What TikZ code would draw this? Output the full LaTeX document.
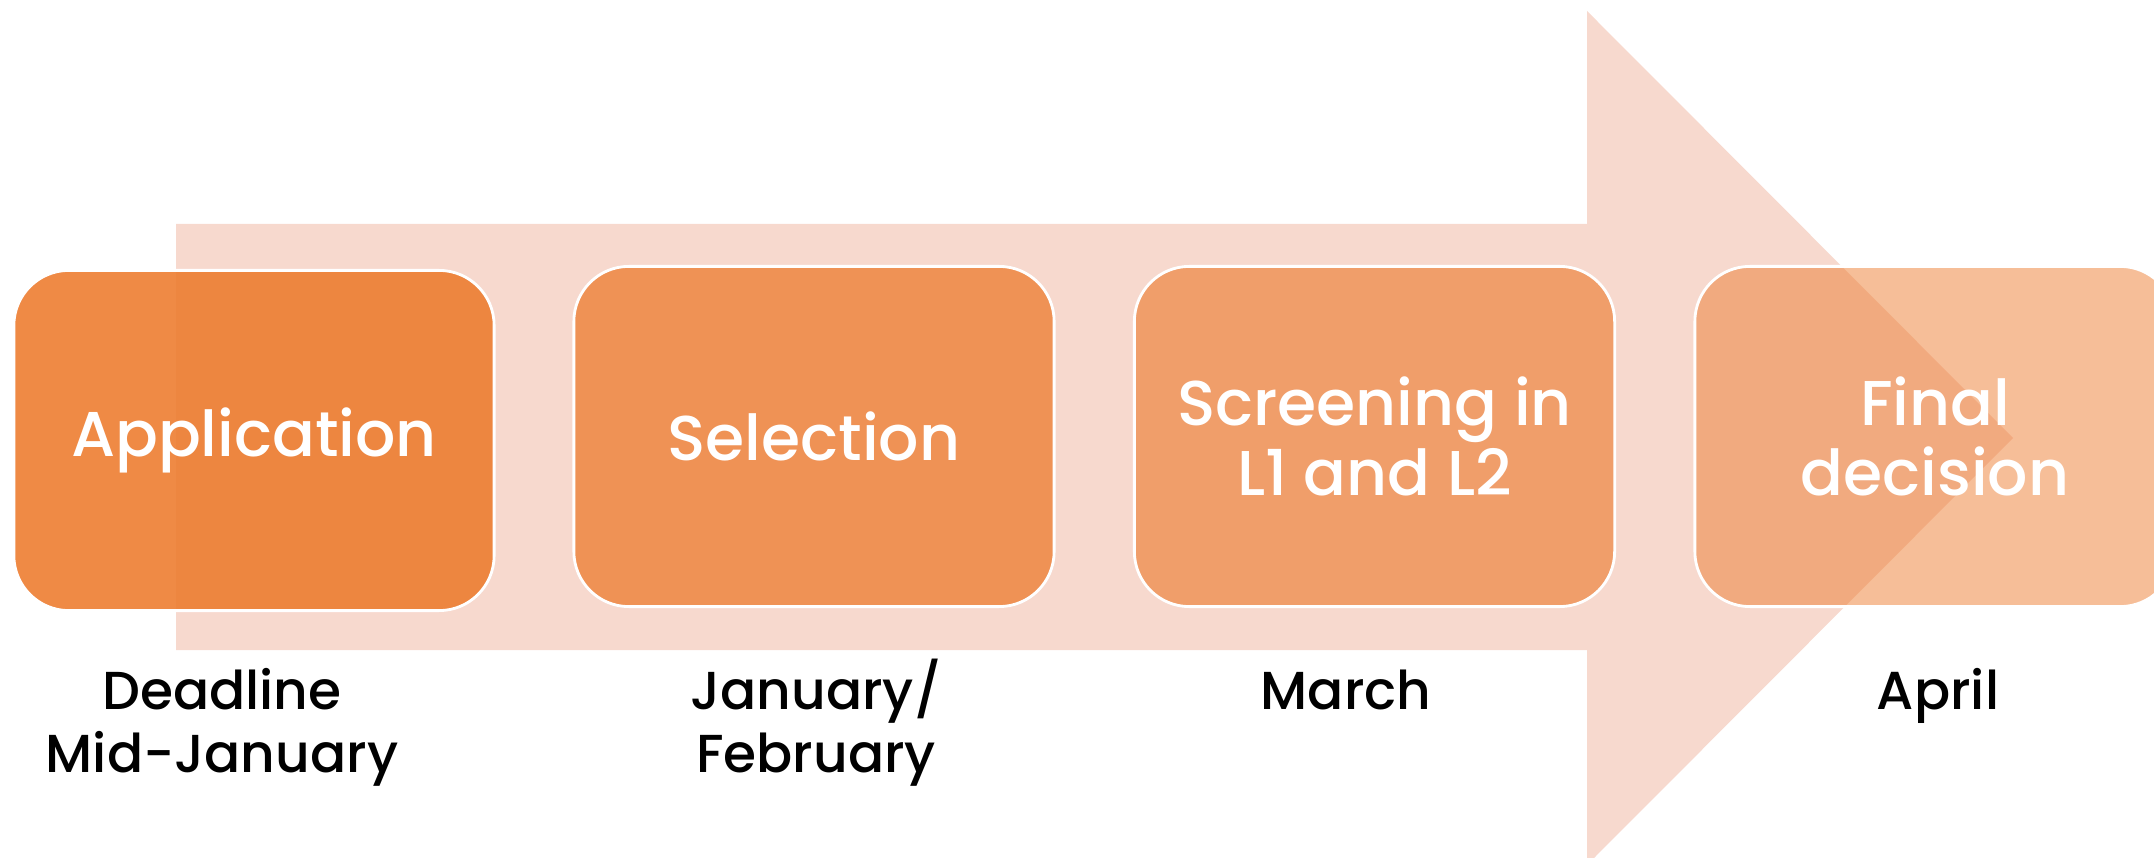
\documentclass[tikz,border=0pt]{standalone}
\usepackage{fontspec}
\setmainfont{Poppins Medium}
\definecolor{arrowc}{RGB}{247,217,206}
\definecolor{boxc}{RGB}{237,125,49}
\begin{document}
\begin{tikzpicture}[x=0.01cm,y=-0.01cm,
  stage/.style={rounded corners=0.55cm, fill=boxc, draw=white, line width=0.8pt,
    text=white, text opacity=1, draw opacity=1, minimum width=4.8cm, minimum height=3.4cm,
    align=center, font=\fontsize{18}{19.9}\selectfont, inner sep=0pt},
  when/.style={text=black, align=center, font=\fontsize{15.2}{17.9}\selectfont, anchor=base}]
\useasboundingbox (0,0) rectangle (2154,858);
\clip (0,0) rectangle (2154,858);
\fill[arrowc] (176,224) -- (1587,224) -- (1587,11) -- (2013,438) -- (1587,865)
  -- (1587,650) -- (176,650) -- cycle;
\node[stage, fill opacity=0.9]  (s1) at (254,440.5) {\raisebox{-5\dimexpr0.01cm}{Application}};
\node[stage, fill opacity=0.77] (s2) at (814,436.5) {\raisebox{-5\dimexpr0.01cm}{Selection}};
\node[stage, fill opacity=0.63] (s3) at (1374.5,436.5) {Screening in\\L1 and L2};
\node[stage, fill opacity=0.5]  (s4) at (1935,436.5) {Final\\decision};
\node[when] (w1) at (222,772) {Deadline\\Mid-January};
\node[when] (w2) at (816,772) {January/\\February};
\node[when] (w3) at (1346,709) {March};
\node[when] (w4) at (1938,709) {April};
\end{tikzpicture}
\end{document}
